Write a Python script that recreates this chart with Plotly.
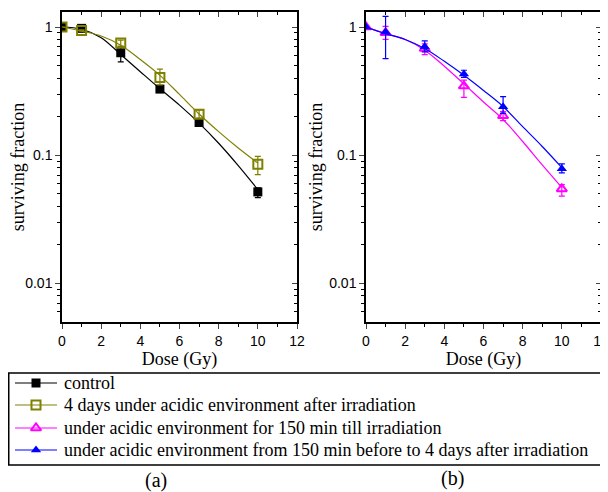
import plotly.graph_objects as go

# measured points
dose = [0, 1, 3, 5, 7, 10]
control = [1.0, 0.976, 0.63, 0.328, 0.18, 0.0518]
control_hi = [1.0, 0.99, 0.70, 0.343, 0.194, 0.0557]
control_lo = [1.0, 0.96, 0.535, 0.315, 0.168, 0.0467]
acid_after = [1.0, 0.94, 0.75, 0.404, 0.209, 0.085]
acid_after_hi = [1.0, 0.95, 0.79, 0.469, 0.226, 0.098]
acid_after_lo = [1.0, 0.93, 0.71, 0.353, 0.194, 0.0706]
acid_before = [1.0, 0.90, 0.68, 0.346, 0.203, 0.0546]
acid_before_hi = [1.0, 1.01, 0.74, 0.385, 0.219, 0.059]
acid_before_lo = [1.0, 0.80, 0.61, 0.283, 0.186, 0.048]
acid_both = [1.0, 0.914, 0.70, 0.43, 0.239, 0.0786]
acid_both_hi = [1.0, 1.21, 0.78, 0.46, 0.287, 0.0857]
acid_both_lo = [1.0, 0.567, 0.64, 0.405, 0.212, 0.0728]

# fitted curves
fit_dose = [0, 1, 2, 3, 4, 5, 6, 7, 8, 9, 10]
fit_control = [1.0, 0.96, 0.826, 0.61, 0.448, 0.33, 0.246, 0.178, 0.124, 0.083, 0.054]
fit_acid_after = [1.0, 0.93, 0.85, 0.72, 0.557, 0.42, 0.298, 0.21, 0.153, 0.114, 0.087]
fit_acid_before = [1.0, 0.89, 0.80, 0.66, 0.495, 0.36, 0.26, 0.19, 0.128, 0.084, 0.056]
fit_acid_both = [1.0, 0.888, 0.80, 0.68, 0.54, 0.42, 0.32, 0.24, 0.167, 0.117, 0.080]

labels = ["control",
          "4 days under acidic environment after irradiation",
          "under acidic environment for 150 min till irradiation",
          "under acidic environment from 150 min before to 4 days after irradiation"]

series = [
    (control, control_hi, control_lo, fit_control, "black", "square", "x", "y"),
    (acid_after, acid_after_hi, acid_after_lo, fit_acid_after, "#808000", "square-open", "x", "y"),
    (acid_before, acid_before_hi, acid_before_lo, fit_acid_before, "#ff00ff", "triangle-up-open", "x2", "y2"),
    (acid_both, acid_both_hi, acid_both_lo, fit_acid_both, "#0000ff", "triangle-up", "x2", "y2"),
]

W, H = 608, 492  # page adds 8px body margin, so positions below are shifted by -8
serif = "Liberation Serif, Times New Roman"

def marker(sym, col):
    return dict(symbol=sym, size=9, color=col, line=dict(color=col, width=2 if "open" in sym else 0))

fig = go.Figure()
for i, (vals, hi, lo, fit, col, sym, xa, ya) in enumerate(series):
    # fitted curve
    fig.add_trace(go.Scatter(x=fit_dose, y=fit, mode="lines", line=dict(color=col, width=1.2, shape="spline"),
                             xaxis=xa, yaxis=ya, showlegend=False, hoverinfo="skip"))
    # points with error bars
    fig.add_trace(go.Scatter(
        x=dose, y=vals, mode="markers", marker=marker(sym, col), showlegend=False,
        error_y=dict(type="data", symmetric=False,
                     array=[h - v for h, v in zip(hi, vals)],
                     arrayminus=[v - l for v, l in zip(vals, lo)],
                     color=col, thickness=1.2, width=3),
        xaxis=xa, yaxis=ya))

# overlay axes for inward ticks on top and right
for xa, ya in [("x3", "y3"), ("x4", "y4")]:
    fig.add_trace(go.Scatter(x=[None], y=[None], xaxis=xa, yaxis=ya, showlegend=False))

# legend drawn on a helper axis in pixel units (box, keys, text)
leg_rows = [375, 397, 420, 442]
annotations = []
for i, (vals, hi, lo, fit, col, sym, xa, ya) in enumerate(series):
    r = leg_rows[i]
    fig.add_trace(go.Scatter(x=[7, 49], y=[r, r], mode="lines", line=dict(color=col, width=1.2),
                             xaxis="x5", yaxis="y5", showlegend=False, hoverinfo="skip"))
    fig.add_trace(go.Scatter(x=[28], y=[r], mode="markers", marker=marker(sym, col),
                             xaxis="x5", yaxis="y5", showlegend=False, hoverinfo="skip"))
    annotations.append(dict(text=labels[i], x=54, y=r, xref="x5", yref="y5", xanchor="left",
                            yanchor="middle", showarrow=False,
                            font=dict(family=serif, size=18, color="black")))

yr = [-2.3, 0.117]
xr = [0, 12]
tick_font = dict(family="Liberation Sans, Arial", size=14, color="black")
title_font = dict(family=serif, size=18, color="black")
dom_a = [54 / W, 289 / W]
dom_b = [358 / W, 593 / W]
ydom = [1 - 314 / H, 1 - 4 / H]

def xaxis(dom):
    return dict(domain=dom, range=xr, tickvals=[0, 2, 4, 6, 8, 10, 12], ticks="outside", ticklen=5,
                tickwidth=1, showline=True, linewidth=1.5, linecolor="black", mirror=True,
                showgrid=False, zeroline=False, tickfont=tick_font, ticklabeloverflow="allow",
                minor=dict(tickvals=[1, 3, 5, 7, 9, 11], ticks="outside", ticklen=3, tickcolor="black"),
                title=dict(text="Dose (Gy)", font=title_font, standoff=2))

def yaxis(anchor):
    return dict(domain=ydom, type="log", range=yr, tickvals=[0.01, 0.1, 1], ticktext=["0.01", "0.1", "1"],
                ticks="outside", ticklen=5, tickwidth=1, showline=True, linewidth=1.5, linecolor="black",
                mirror=True, showgrid=False, zeroline=False, tickfont=tick_font, anchor=anchor,
                minor=dict(dtick="D1", ticks="outside", ticklen=3, tickcolor="black"),
                title=dict(text="surviving fraction", font=title_font, standoff=2))

def top_axis(over):
    return dict(overlaying=over, side="top", range=xr, tickvals=[0, 2, 4, 6, 8, 10, 12], ticks="inside",
                ticklen=5, showticklabels=False, showgrid=False, zeroline=False,
                minor=dict(tickvals=[1, 3, 5, 7, 9, 11], ticks="inside", ticklen=3, tickcolor="black"))

def right_axis(over):
    return dict(overlaying=over, side="right", type="log", range=yr, tickvals=[0.01, 0.1, 1], ticks="inside",
                ticklen=5, showticklabels=False, showgrid=False, zeroline=False,
                minor=dict(dtick="D1", ticks="inside", ticklen=3, tickcolor="black"))

annotations += [
    dict(text="(a)", x=148, y=472, xref="x5", yref="y5", showarrow=False,
         font=dict(family=serif, size=20, color="black")),
    dict(text="(b)", x=444, y=470, xref="x5", yref="y5", showarrow=False,
         font=dict(family=serif, size=20, color="black")),
]

fig.update_layout(
    width=W, height=H, margin=dict(l=0, r=0, t=0, b=0, autoexpand=False),
    paper_bgcolor="white", plot_bgcolor="rgba(0,0,0,0)", showlegend=False,
    xaxis=dict(xaxis(dom_a), anchor="y"), yaxis=yaxis("x"),
    xaxis2=dict(xaxis(dom_b), anchor="y2"), yaxis2=yaxis("x2"),
    xaxis3=dict(top_axis("x"), anchor="y3"), yaxis3=dict(right_axis("y"), anchor="x3"),
    xaxis4=dict(top_axis("x2"), anchor="y4"), yaxis4=dict(right_axis("y2"), anchor="x4"),
    xaxis5=dict(domain=[0, 1], range=[0, W], visible=False, fixedrange=True, anchor="y5"),
    yaxis5=dict(domain=[0, 1], range=[H, 0], visible=False, fixedrange=True, anchor="x5"),
    shapes=[dict(type="rect", xref="x5", yref="y5", x0=0.75, x1=598, y0=365, y1=457,
                 line=dict(color="black", width=1.5), layer="below")],
    annotations=annotations,
)

fig.write_html("out.html")
